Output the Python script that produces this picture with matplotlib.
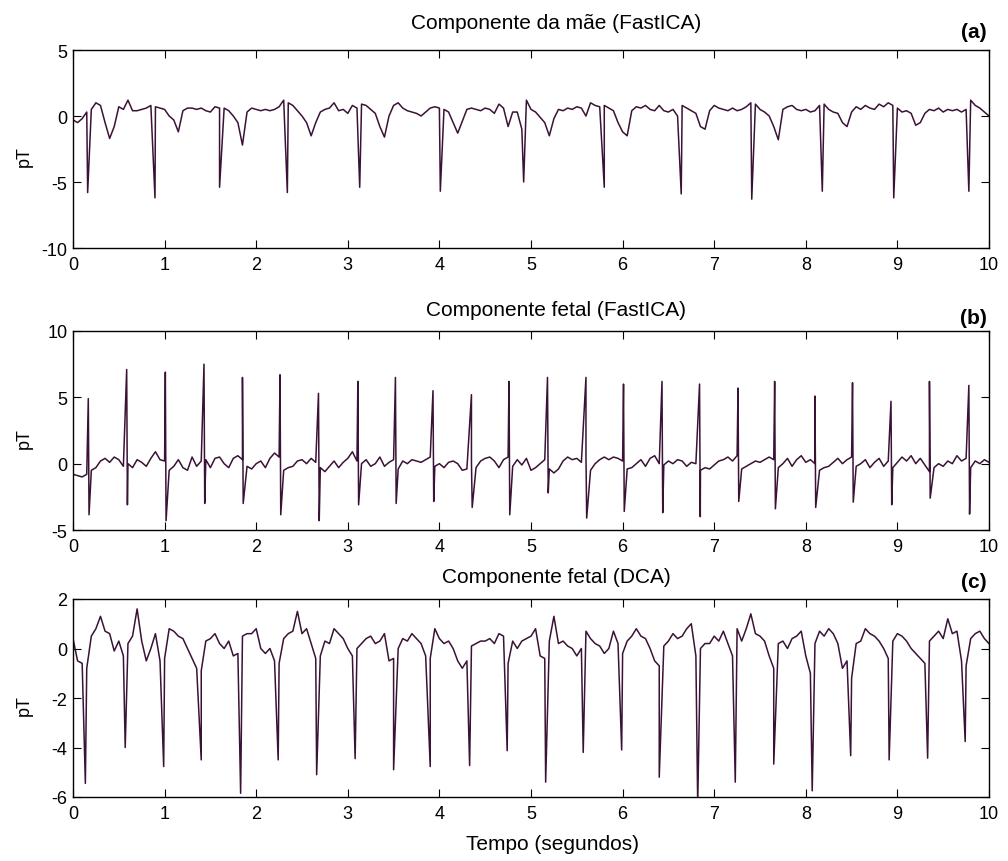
import numpy as np
import matplotlib
matplotlib.use("Agg")
import matplotlib.pyplot as plt

# ---------------- data ----------------
# baseline samples every 0.05 s from 0 to 10 s (201 values each)
time_grid = np.linspace(0, 10, 201)

a_base = [
    -0.3, -0.5, -0.2, 0.3, 0.5, 1.0, 0.8, -0.5, -1.7, -0.8,
    0.7, 0.5, 1.2, 0.4, 0.4, 0.5, 0.6, 0.8, 0.7, 0.6,
    0.5, 0.0, -0.3, -1.2, 0.4, 0.6, 0.6, 0.5, 0.6, 0.4,
    0.3, 0.7, 0.6, 0.6, 0.4, 0.0, -0.5, -2.2, 0.3, 0.6,
    0.5, 0.4, 0.5, 0.4, 0.5, 0.7, 1.2, 1.0, 0.8, 0.4,
    0.0, -0.5, -1.5, -0.5, 0.3, 0.5, 0.6, 1.0, 0.4, 0.5,
    0.2, 0.8, 0.6, 0.9, 0.8, 0.5, 0.2, -0.8, -1.6, 0.0,
    0.8, 1.0, 0.6, 0.4, 0.3, 0.2, 0.0, 0.3, 0.6, 0.7,
    0.6, 0.5, 0.3, -0.5, -1.3, -0.4, 0.5, 0.6, 0.5, 0.4,
    0.6, 0.5, 0.2, 0.9, 0.6, -0.8, 0.3, 0.3, -1.0, 1.2,
    0.5, 0.3, -0.1, -0.5, -1.5, -0.2, 0.5, 0.4, 0.6, 0.5,
    0.7, 0.6, 0.0, 1.0, 0.8, 0.7, 0.8, 0.6, 0.4, -0.5,
    -1.2, -1.5, 0.4, 0.7, 0.6, 0.8, 0.5, 0.4, 0.8, 0.4,
    0.3, 0.5, 0.0, 0.8, 0.6, 0.4, 0.2, -0.8, -1.0, 0.4,
    0.8, 0.6, 0.5, 0.4, 0.6, 0.4, 0.5, 0.7, 1.0, 0.9,
    0.5, 0.3, 0.0, -0.8, -1.8, 0.5, 0.7, 0.8, 0.5, 0.4,
    0.5, 0.3, 0.4, 0.8, 0.9, 0.5, 0.3, 0.2, -0.5, -0.8,
    0.3, 0.7, 0.5, 0.8, 0.6, 0.5, 0.9, 0.7, 1.0, 0.8,
    0.6, 0.3, 0.4, 0.2, -0.7, -0.5, 0.2, 0.5, 0.4, 0.6,
    0.3, 0.5, 0.4, 0.5, 0.3, 0.5, 1.2, 0.8, 0.6, 0.3,
    0.0,
]
a_spike_t = [0.16, 0.895, 1.60, 2.34, 3.13, 4.01, 4.92, 5.80, 6.64, 7.41, 8.18, 8.96, 9.78]
a_spike_v = [-5.8, -6.2, -5.4, -5.8, -5.4, -5.7, -5.0, -5.4, -5.9, -6.3, -5.7, -6.2, -5.7]

b_base = [
    -0.8, -0.9, -1.0, -0.8, -0.5, -0.3, 0.2, 0.4, 0.1, 0.5, 0.3, -0.2, 0.0, -0.3, 0.3, 0.1, -0.2, 0.4, 0.9, 0.3,
    0.2, -0.5, -0.2, 0.3, -0.3, -0.5, 0.5, -0.2, 0.2, 0.3, -0.3, 0.4, 0.5, 0.0, -0.3, 0.4, 0.6, 0.3, -0.2, -0.4,
    0.0, 0.2, -0.3, 0.4, 0.8, 0.5, -0.5, -0.3, -0.2, 0.2, 0.3, 0.0, 0.4, 0.1, -0.3, -0.6, -0.2, 0.2, -0.3, 0.1,
    0.4, 0.9, 0.2, 0.0, 0.3, -0.2, 0.0, 0.5, -0.2, 0.1, 0.3, -0.4, 0.2, 0.0, 0.3, 0.2, 0.1, 0.3, 0.5, -0.2,
    0.0, -0.3, 0.1, 0.2, 0.0, -0.5, -0.4, 0.1, -0.3, 0.2, 0.4, 0.5, 0.2, -0.3, 0.3, 0.5, -0.2, 0.3, -0.1, 0.4,
    -0.5, -0.3, 0.0, 0.3, -0.4, -0.7, -0.4, 0.2, 0.5, 0.3, 0.4, 0.1, 0.6, -0.5, 0.0, 0.3, 0.5, 0.3, 0.5, 0.4,
    0.2, -0.4, -0.3, 0.0, 0.3, -0.2, 0.4, 0.6, 0.0, -0.1, 0.2, 0.0, 0.3, 0.2, -0.2, 0.1, 0.0, -0.5, -0.3, -0.4,
    -0.1, 0.2, 0.3, 0.5, 0.2, 0.6, -0.4, -0.2, 0.0, 0.2, 0.1, 0.3, 0.5, 0.3, -0.3, 0.0, 0.4, -0.2, 0.3, 0.6,
    0.1, 0.3, 0.0, -0.5, -0.3, -0.2, 0.1, 0.4, 0.0, 0.3, 0.5, -0.2, 0.0, 0.3, -0.3, 0.1, 0.4, -0.2, 0.2, -0.3,
    0.1, 0.5, 0.2, 0.6, 0.0, 0.4, -0.1, -0.6, -0.3, 0.0, -0.2, 0.2, 0.0, 0.6, 0.2, 0.4, -0.3, 0.2, 0.0, 0.3,
    0.1,
]
b_spike_t = [0.167, 0.586, 1.008, 1.43, 1.85, 2.26, 2.68, 3.11, 3.52, 3.93, 4.35, 4.76,
             5.18, 5.60, 6.01, 6.43, 6.84, 7.26, 7.66, 8.10, 8.51, 8.93, 9.35, 9.78]
b_peak_v = [4.9, 7.1, 6.9, 7.5, 6.5, 6.7, 5.3, 6.2, 6.5, 5.5, 5.2, 6.2,
            6.5, 6.5, 6.0, 6.2, 6.0, 5.7, 6.2, 5.1, 6.1, 4.7, 6.2, 5.9]
b_trough_v = [-3.85, -3.1, -4.3, -3.0, -3.0, -3.85, -4.3, -3.1, -3.0, -2.85, -3.3, -3.85,
              -2.2, -4.1, -3.6, -3.7, -4.0, -2.85, -3.4, -3.3, -2.9, -3.1, -2.6, -3.8]

c_base = [
    0.4, -0.5, -0.6, -0.8, 0.5, 0.8, 1.3, 0.7, 0.6, -0.1,
    0.3, -0.3, 0.2, 0.5, 1.6, 0.3, -0.5, 0.0, 0.6, -0.5,
    -0.4, 0.8, 0.7, 0.5, 0.4, 0.0, -0.4, -0.8, -0.9, 0.3,
    0.4, 0.6, 0.2, 0.0, 0.3, -0.3, -0.2, 0.5, 0.6, 0.6,
    0.8, 0.0, -0.2, 0.0, -0.5, -0.6, 0.4, 0.6, 0.7, 1.5,
    0.6, 0.8, 0.2, -0.4, -0.3, 0.3, 0.2, 0.8, 0.6, 0.4,
    0.0, -0.3, 0.0, 0.2, 0.4, 0.5, 0.2, 0.3, 0.6, -0.5,
    -0.4, 0.0, 0.4, 0.3, 0.6, 0.4, 0.2, -0.3, -0.4, 0.8,
    0.4, 0.2, 0.3, 0.0, -0.5, -0.8, -0.5, 0.1, 0.2, 0.3,
    0.3, 0.4, 0.2, 0.6, 0.5, -0.6, 0.3, 0.0, 0.3, 0.4,
    0.5, 0.8, -0.3, -0.4, 0.3, 1.3, 0.2, 0.3, 0.1, 0.0,
    -0.3, 0.0, 0.7, 0.4, 0.2, 0.1, -0.2, 0.0, 0.7, 0.2,
    -0.2, 0.3, 0.5, 0.8, 0.5, 0.4, 0.0, -0.5, -0.7, 0.1,
    0.3, 0.6, 0.4, 0.5, 0.8, 1.0, -0.3, 0.0, 0.2, 0.2,
    0.5, 0.3, 0.7, 0.2, -0.3, 0.8, 0.3, 0.8, 1.4, 0.6,
    0.5, 0.3, -0.3, -0.8, 0.2, 0.3, 0.0, 0.4, 0.5, 0.7,
    -0.3, -1.0, 0.2, 0.7, 0.5, 0.8, 0.6, 0.2, -0.8, -0.5,
    -1.2, 0.2, 0.3, 0.8, 0.6, 0.5, 0.3, 0.0, -0.4, 0.3,
    0.6, 0.5, 0.3, 0.0, -0.2, -0.4, -0.6, 0.3, 0.5, 0.7,
    0.4, 1.2, 0.6, 0.7, -0.5, -0.7, 0.4, 0.6, 0.7, 0.4,
    0.2,
]
c_spike_t = [0.135, 0.57, 0.99, 1.40, 1.83, 2.24, 2.66, 3.08, 3.50, 3.90, 4.33, 4.74,
             5.16, 5.57, 5.99, 6.40, 6.82, 7.23, 7.65, 8.07, 8.49, 8.91, 9.33, 9.74]
c_spike_v = [-5.45, -4.0, -4.77, -4.5, -5.85, -4.5, -5.1, -4.45, -4.9, -4.77, -4.73, -4.13,
             -5.4, -4.2, -4.1, -5.2, -6.3, -5.4, -4.67, -5.75, -4.33, -4.5, -4.43, -3.76]

titles = ["Componente da mãe (FastICA)", "Componente fetal (FastICA)", "Componente fetal (DCA)"]
tags = ["(a)", "(b)", "(c)"]
ylims = [(-10, 5), (-5, 10), (-6, 2)]
yticks = [[-10, -5, 0, 5], [-5, 0, 5, 10], [-6, -4, -2, 0, 2]]
xticks = list(range(0, 11))

# ---------------- drawing ----------------
plt.rcParams["font.family"] = ["Liberation Sans", "DejaVu Sans"]
plt.rcParams["axes.unicode_minus"] = False

W, H = 1008, 862
fig = plt.figure(figsize=(W / 100, H / 100), dpi=100)
fig.patch.set_facecolor("white")

line_color = "#3a1236"

def merge(ts_list, vs_list):
    t = np.concatenate([np.asarray(x, float) for x in ts_list])
    v = np.concatenate([np.asarray(x, float) for x in vs_list])
    o = np.argsort(t, kind="stable")
    return t[o], v[o]

b_trough_t = np.asarray(b_spike_t) + 0.008
series = [
    merge([time_grid, a_spike_t], [a_base, a_spike_v]),
    merge([time_grid, b_spike_t, b_trough_t], [b_base, b_peak_v, b_trough_v]),
    merge([time_grid, c_spike_t], [c_base, c_spike_v]),
]

# axes boxes in pixels (left, top, right, bottom)
boxes = [(73, 51, 989, 249), (73, 332, 989, 531), (73, 600, 989, 798)]
title_base = [29, 316, 583]
tag_base = [38, 324, 588]

for i, (l, t, r, b) in enumerate(boxes):
    ax = fig.add_axes([l / W, 1 - b / H, (r - l) / W, (b - t) / H])
    tt, vv = series[i]
    ax.plot(tt, vv, color=line_color, lw=1.1)
    ax.set_xlim(0, 10)
    ax.set_ylim(*ylims[i])
    ax.set_xticks(xticks)
    ax.set_yticks(yticks[i])
    ax.tick_params(direction="in", length=6, width=0.8, top=True, right=True,
                   labelsize=13, pad=4, colors="black")
    ax.tick_params(axis="x", pad=6)
    for s in ax.spines.values():
        s.set_linewidth(1.0)
        s.set_color("black")
    fig.text(556 / W, 1 - title_base[i] / H, titles[i], ha="center", va="baseline", fontsize=15)
    fig.text(987 / W, 1 - tag_base[i] / H, tags[i], ha="right", va="baseline",
             fontsize=15, fontweight="bold")
    fig.text(24 / W, 1 - ((t + b) / 2 + 7) / H, "pT", rotation=90, ha="center", va="center", fontsize=13)

fig.text(552 / W, 1 - 850 / H, "Tempo (segundos)", ha="center", va="baseline", fontsize=15)

fig.savefig("out.png", dpi=100, facecolor="white")
